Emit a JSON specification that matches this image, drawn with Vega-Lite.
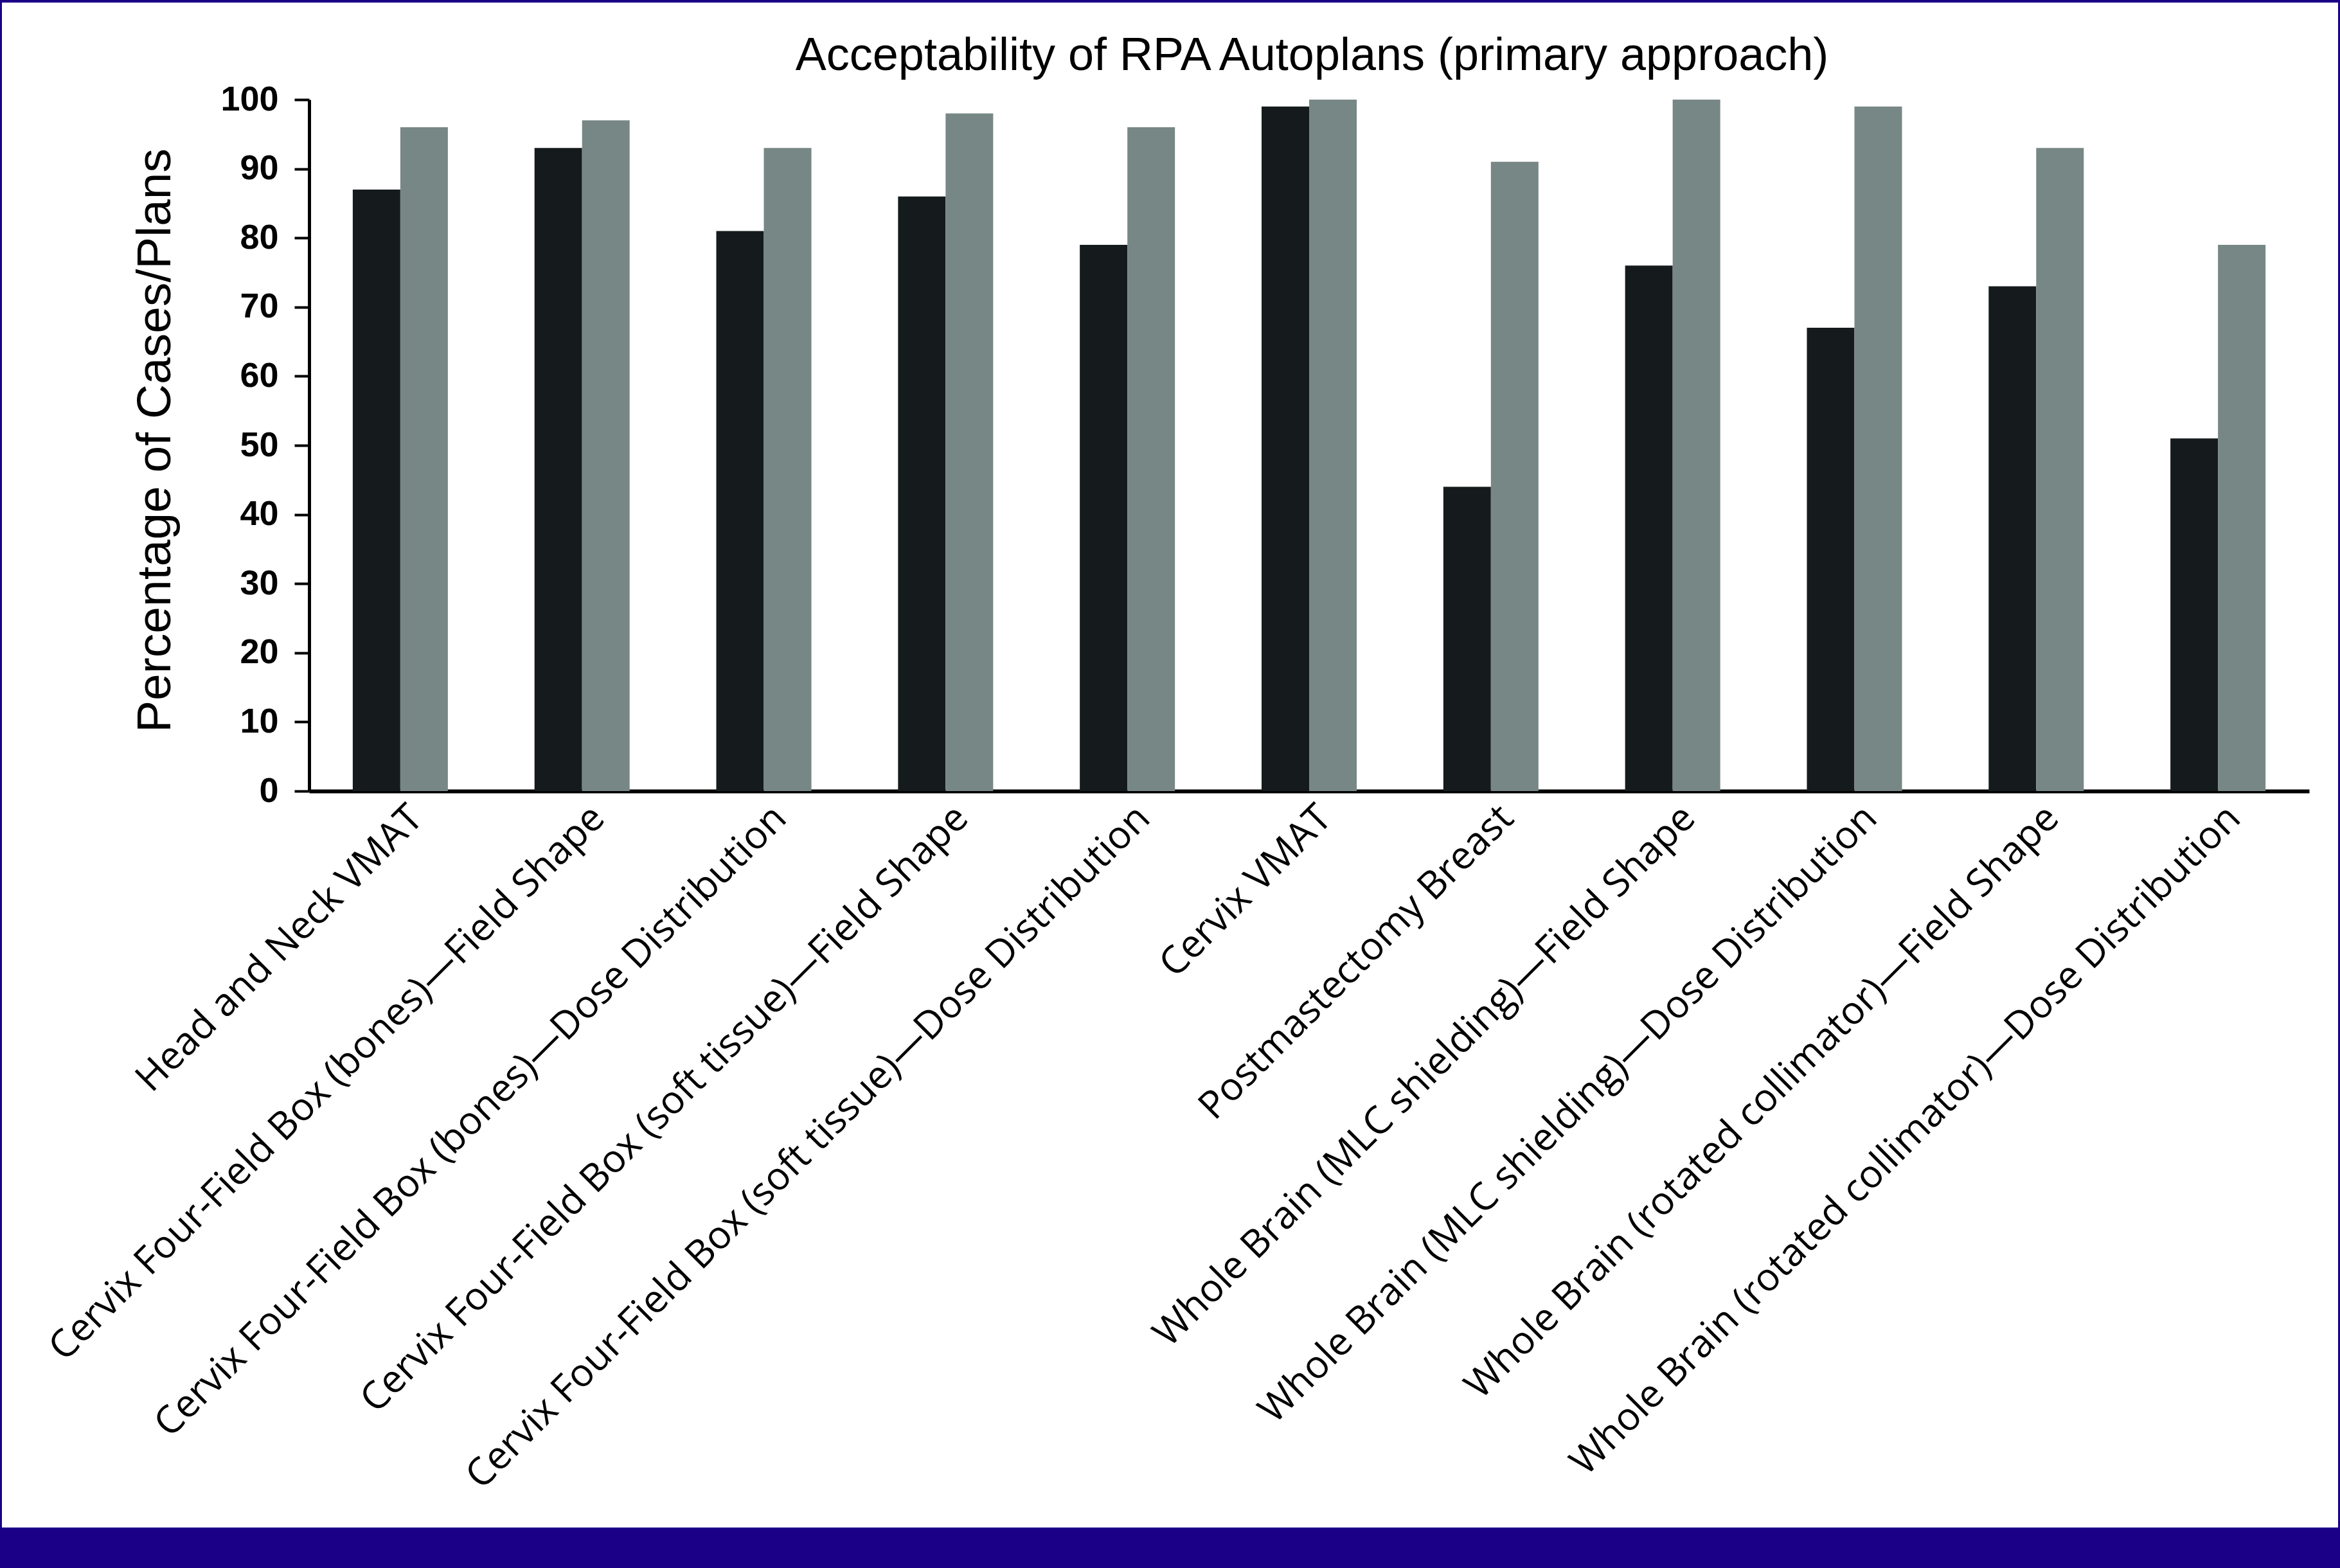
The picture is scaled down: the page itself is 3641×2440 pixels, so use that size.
{
  "$schema": "https://vega.github.io/schema/vega-lite/v6.json",
  "autosize": {"type": "none"},
  "width": 3635,
  "height": 2373,
  "padding": {"left": 3, "top": 4, "right": 3, "bottom": 63},
  "background": "#1B0087",
  "config": {
    "view": {"fill": "white", "stroke": null},
    "axis": {"grid": false}
  },
  "title": {
    "text": "Acceptability of RPA Autoplans (primary approach)",
    "font": "Liberation Sans",
    "fontSize": 72,
    "fontWeight": "normal",
    "color": "black",
    "anchor": "middle",
    "frame": "group",
    "orient": "top",
    "offset": 0,
    "baseline": "alphabetic",
    "dy": 177,
    "dx": 221
  },
  "data": {
    "values": [
      {"category": "Head and Neck VMAT", "series": "A", "pct": 87},
      {"category": "Head and Neck VMAT", "series": "B", "pct": 96},
      {"category": "Cervix Four-Field Box (bones)—Field Shape", "series": "A", "pct": 93},
      {"category": "Cervix Four-Field Box (bones)—Field Shape", "series": "B", "pct": 97},
      {"category": "Cervix Four-Field Box (bones)—Dose Distribution", "series": "A", "pct": 81},
      {"category": "Cervix Four-Field Box (bones)—Dose Distribution", "series": "B", "pct": 93},
      {"category": "Cervix Four-Field Box (soft tissue)—Field Shape", "series": "A", "pct": 86},
      {"category": "Cervix Four-Field Box (soft tissue)—Field Shape", "series": "B", "pct": 98},
      {"category": "Cervix Four-Field Box (soft tissue)—Dose Distribution", "series": "A", "pct": 79},
      {"category": "Cervix Four-Field Box (soft tissue)—Dose Distribution", "series": "B", "pct": 96},
      {"category": "Cervix VMAT", "series": "A", "pct": 99},
      {"category": "Cervix VMAT", "series": "B", "pct": 100},
      {"category": "Postmastectomy Breast", "series": "A", "pct": 44},
      {"category": "Postmastectomy Breast", "series": "B", "pct": 91},
      {"category": "Whole Brain (MLC shielding)—Field Shape", "series": "A", "pct": 76},
      {"category": "Whole Brain (MLC shielding)—Field Shape", "series": "B", "pct": 100},
      {"category": "Whole Brain (MLC shielding)—Dose Distribution", "series": "A", "pct": 67},
      {"category": "Whole Brain (MLC shielding)—Dose Distribution", "series": "B", "pct": 99},
      {"category": "Whole Brain (rotated collimator)—Field Shape", "series": "A", "pct": 73},
      {"category": "Whole Brain (rotated collimator)—Field Shape", "series": "B", "pct": 93},
      {"category": "Whole Brain (rotated collimator)—Dose Distribution", "series": "A", "pct": 51},
      {"category": "Whole Brain (rotated collimator)—Dose Distribution", "series": "B", "pct": 79}
    ]
  },
  "mark": {"type": "bar"},
  "encoding": {
    "x": {
      "field": "category",
      "type": "nominal",
      "sort": null,
      "scale": {"range": [478, 3590], "paddingInner": 0.4767, "paddingOuter": 0.24},
      "axis": {
        "title": null,
        "orient": "bottom",
        "offset": -1146,
        "domain": true,
        "domainColor": "black",
        "domainWidth": 6,
        "ticks": false,
        "labelAngle": -45,
        "labelAlign": "right",
        "labelBaseline": "top",
        "labelOffset": 5,
        "labelPadding": 12,
        "labelFont": "Open Sans",
        "labelFontSize": 60,
        "labelColor": "black",
        "labelLimit": 3000,
        "labelOverlap": false
      }
    },
    "xOffset": {"field": "series", "type": "nominal", "scale": {"paddingInner": 0, "paddingOuter": 0}},
    "y": {
      "field": "pct",
      "type": "quantitative",
      "scale": {"domain": [0, 100], "range": [1227, 151], "nice": false, "zero": true},
      "axis": {
        "title": "Percentage of Cases/Plans",
        "orient": "left",
        "offset": -478,
        "values": [0, 10, 20, 30, 40, 50, 60, 70, 80, 90, 100],
        "domainColor": "black",
        "domainWidth": 5,
        "tickColor": "black",
        "tickWidth": 4,
        "tickSize": 23,
        "labelPadding": 25,
        "labelFont": "Liberation Sans",
        "labelFontWeight": "bold",
        "labelFontSize": 54,
        "labelColor": "black",
        "titleFont": "Liberation Sans",
        "titleFontSize": 75,
        "titleFontWeight": "normal",
        "titleColor": "black",
        "titleAngle": -90,
        "titleAlign": "center",
        "titleBaseline": "middle",
        "titleX": -240,
        "titleY": 681
      }
    },
    "color": {
      "field": "series",
      "type": "nominal",
      "scale": {"domain": ["A", "B"], "range": ["#151b1c", "#778785"]},
      "legend": null
    }
  }
}
